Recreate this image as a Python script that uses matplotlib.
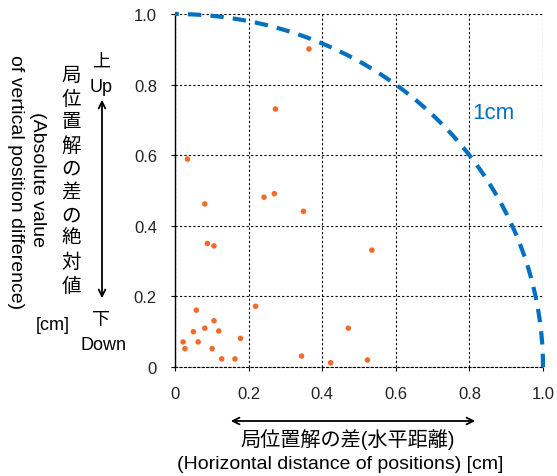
import numpy as np
import matplotlib
matplotlib.use("Agg")
from matplotlib import pyplot as plt
from matplotlib.ticker import FuncFormatter

plt.rcParams['font.family'] = ['Liberation Sans', 'Noto Sans CJK JP']

# horizontal / vertical difference of positions [cm]
horiz = [0.364, 0.273, 0.034, 0.081, 0.242, 0.270, 0.349, 0.088, 0.106, 0.535,
         0.219, 0.058, 0.106, 0.081, 0.050, 0.119, 0.471, 0.022, 0.063, 0.178,
         0.027, 0.101, 0.127, 0.163, 0.344, 0.423, 0.523]
vert = [0.901, 0.731, 0.589, 0.462, 0.481, 0.491, 0.441, 0.350, 0.343, 0.331,
        0.172, 0.161, 0.131, 0.110, 0.100, 0.102, 0.110, 0.071, 0.071, 0.081,
        0.052, 0.052, 0.023, 0.023, 0.031, 0.012, 0.020]
radius = 1.0
ticks = [0, 0.2, 0.4, 0.6, 0.8, 1.0]

W, H = 557, 477
fig = plt.figure(figsize=(W/100, H/100), dpi=100)
ax = fig.add_axes([175/W, 1 - 368/H, 368/W, 353/H])

# 1cm circle
t = np.linspace(0, np.pi/2, 200)
ax.plot(radius*np.cos(t), radius*np.sin(t), color='#0070C0', lw=3,
        dashes=(3.2, 2.2), clip_on=False, zorder=3)
ax.text(0.807, 0.722, '1cm', color='#0070C0', fontsize=16, va='center', ha='left')

ax.scatter(horiz, vert, s=16, color='#F26B2A', edgecolors='none', zorder=4)

ax.set_xlim(0, 1)
ax.set_ylim(0, 1)
ax.set_xticks(ticks)
ax.set_yticks(ticks)
fmt = FuncFormatter(lambda v, p: '0' if v == 0 else f'{v:.1f}')
ax.xaxis.set_major_formatter(fmt)
ax.yaxis.set_major_formatter(fmt)
ax.tick_params(axis='both', labelsize=12, direction='out', length=3, width=0.8,
               labelcolor='#222222')
ax.tick_params(axis='x', pad=11)
ax.tick_params(axis='y', pad=10)

ax.grid(True, color='black', lw=0.8, linestyle=(0, (2, 2)))
for s in ['top', 'right']:
    ax.spines[s].set_visible(False)
ax.spines['bottom'].set_linestyle((0, (2, 2)))
ax.spines['bottom'].set_linewidth(0.8)
ax.spines['left'].set_linewidth(1.0)

def fx(px):
    return px / W

def fy(py):
    return 1 - py / H

# left side labels
fig.text(fx(101), fy(62), '上', fontsize=13, ha='center', va='center')
fig.text(fx(101), fy(88), 'Up', fontsize=13, ha='center', va='center')
fig.text(fx(101), fy(320), '下', fontsize=13, ha='center', va='center')
fig.text(fx(103), fy(346), 'Down', fontsize=13, ha='center', va='center')
ax.annotate('', xy=(fx(102), fy(98)), xytext=(fx(102), fy(302)),
            xycoords='figure fraction', textcoords='figure fraction',
            arrowprops=dict(arrowstyle='<->', lw=1.3, color='black',
                            mutation_scale=12))
fig.text(fx(71), fy(182), '\n'.join('局位置解の差の絶対値'), fontsize=14,
         ha='center', va='center', linespacing=1.42)
fig.text(fx(37), fy(180), '(Absolute value', fontsize=14, rotation=-90,
         ha='center', va='center')
fig.text(fx(15), fy(182), 'of vertical position difference)', fontsize=14,
         rotation=-90, ha='center', va='center')
fig.text(fx(53), fy(325), '[cm]', fontsize=13, ha='center', va='center')

# bottom labels
ax.annotate('', xy=(fx(228), fy(422)), xytext=(fx(478), fy(422)),
            xycoords='figure fraction', textcoords='figure fraction',
            arrowprops=dict(arrowstyle='<->', lw=1.3, color='black',
                            mutation_scale=12))
fig.text(fx(348), fy(440), '局位置解の差(水平距離)', fontsize=14.5,
         ha='center', va='center')
fig.text(fx(340), fy(465), '(Horizontal distance of positions) [cm]', fontsize=14,
         ha='center', va='center')

fig.savefig('out.png', dpi=100)
